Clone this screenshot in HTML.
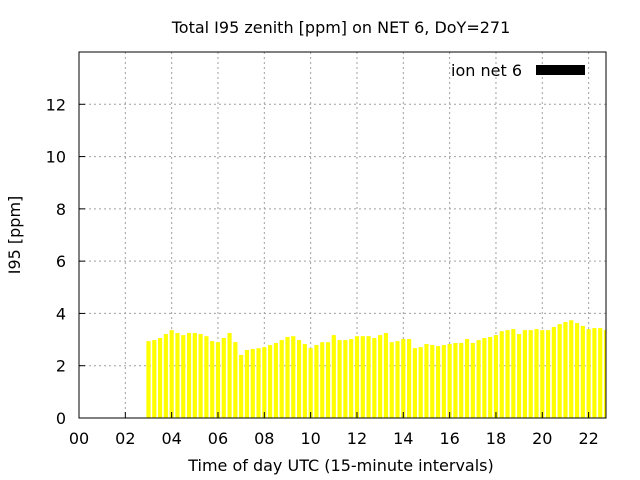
<!DOCTYPE html>
<html><head><meta charset="utf-8"><style>
body{margin:0;background:#fff}
svg{display:block;font-family:"DejaVu Sans","Liberation Sans",sans-serif}
</style></head><body>
<svg id="c" width="640" height="480">
<text x="341" y="33" text-anchor="middle" font-size="16">Total I95 zenith [ppm] on NET 6, DoY=271</text>
<text x="341" y="471" text-anchor="middle" font-size="16">Time of day UTC (15-minute intervals)</text>
<text transform="translate(20,235) rotate(-90)" text-anchor="middle" font-size="16">I95 [ppm]</text>
<g id="grid"></g><g id="bars"></g><g id="axes"></g>
<text x="522" y="76" text-anchor="end" font-size="16">ion net 6</text>
<rect x="536" y="65" width="49" height="10" fill="#000"/>
</svg>
<script>
const startHour = 3.0;
const stepHours = 0.25;
const values = [2.94,2.98,3.06,3.21,3.36,3.25,3.17,3.25,3.25,3.21,3.13,2.94,2.90,3.06,3.25,2.90,2.41,2.60,2.64,2.67,2.71,2.79,2.87,2.98,3.10,3.13,2.98,2.83,2.67,2.79,2.90,2.90,3.17,2.98,2.98,3.02,3.13,3.13,3.13,3.06,
3.17,3.25,2.90,2.94,3.02,3.02,2.67,2.71,2.83,2.79,2.75,2.79,2.83,2.87,2.87,3.02,2.87,2.98,3.06,3.10,3.17,3.32,3.36,3.40,3.21,3.36,3.36,3.40,3.36,3.36,3.48,3.59,3.67,3.74,3.63,3.52,3.40,3.44,3.44,3.36];
const yTicks = [0,2,4,6,8,10,12];
const xTicks = [0,2,4,6,8,10,12,14,16,18,20,22];
const xTickLabels = ["00","02","04","06","08","10","12","14","16","18","20","22"];
const L=79,R=606,T=52,B=418,xMax=22.75,yMax=14;
const sx=h=>L+h*(R-L)/xMax, sy=v=>B-v*(B-T)/yMax;
const NS="http://www.w3.org/2000/svg";
function mk(tag,attrs,parent){const e=document.createElementNS(NS,tag);for(const k in attrs)e.setAttribute(k,attrs[k]);document.getElementById(parent).appendChild(e);return e;}
yTicks.forEach(v=>{
 const y=sy(v);
 if(v>0){const g=mk('line',{x1:L,x2:R,y1:y,y2:y,stroke:'#a0a0a0','stroke-dasharray':'2,3'},'grid');
 
 }
 const t=mk('line',{x1:L,x2:L+6,y1:y,y2:y,stroke:'#000'},'axes');
 
 
 const lb=mk('text',{x:66,y:y+6,'text-anchor':'end','font-size':16},'axes');lb.textContent=v;
 
 
});
xTicks.forEach((h,i)=>{
 const x=sx(h);
 if(h>0){const g=mk('line',{x1:x,x2:x,y1:T,y2:B,stroke:'#a0a0a0','stroke-dasharray':'2,3'},'grid');
 
 }
 const t=mk('line',{x1:x,x2:x,y1:B,y2:B-6,stroke:'#000'},'axes');
 
 
 const lb=mk('text',{x:x,y:444,'text-anchor':'middle','font-size':16},'axes');lb.textContent=xTickLabels[i];
 
 
});
const bw=(sx(stepHours)-sx(0))*0.72;
values.forEach((v,i)=>{
 const h=startHour+i*stepHours;
 const x0=Math.max(L,sx(h)-bw/2), x1=Math.min(R,sx(h)+bw/2);
 const r=mk('rect',{x:x0,y:sy(v),width:Math.max(0,x1-x0),height:B-sy(v),fill:'#ffff00'},'bars');
 
 
});
const f=mk('rect',{x:L,y:T,width:R-L,height:B-T,fill:'none',stroke:'#000','stroke-width':1},'axes');


</script>
</body></html>
